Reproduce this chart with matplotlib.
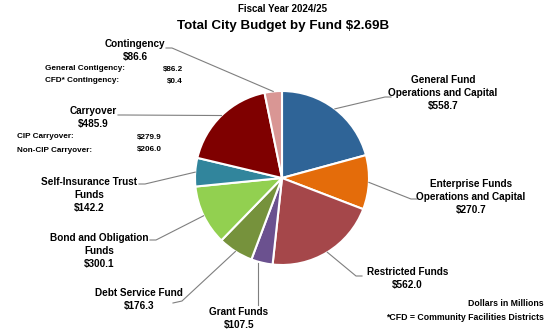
import numpy as np
import matplotlib.pyplot as plt
from matplotlib import font_manager
from matplotlib.textpath import TextPath

plt.rcParams['font.family'] = ['Liberation Sans Narrow', 'Liberation Sans', 'DejaVu Sans']
plt.rcParams['font.weight'] = 'bold'

# budget by fund, $ millions (clockwise from 12 o'clock)
funds = ['General Fund\nOperations and Capital', 'Enterprise Funds\nOperations and Capital',
         'Restricted Funds', 'Grant Funds', 'Debt Service Fund',
         'Bond and Obligation\nFunds', 'Self-Insurance Trust\nFunds', 'Carryover', 'Contingency']
amounts = [558.7, 270.7, 562.0, 107.5, 176.3, 300.1, 142.2, 485.9, 86.6]
colors = ['#2F6497', '#E46C0A', '#A5474A', '#6B518F', '#76923C',
          '#92D050', '#31859C', '#7F0000', '#D99694']

contingency_parts = ['General Contigency:', 'CFD* Contingency:']
contingency_vals = [86.2, 0.4]
carryover_parts = ['CIP Carryover:', 'Non-CIP Carryover:']
carryover_vals = [279.9, 206.0]

W, H = 560, 333
fig = plt.figure(figsize=(W / 100, H / 100), dpi=100)
ax = fig.add_axes([0, 0, 1, 1])

def Y(y):
    return H - y

cx, cy, r = 282, Y(178), 87
ax.pie(amounts, colors=colors, startangle=90, counterclock=False,
       center=(cx, cy), radius=r, frame=True,
       wedgeprops=dict(edgecolor='white', linewidth=1.5))
ax.set_xlim(0, W)
ax.set_ylim(0, H)
ax.set_aspect('equal')
ax.axis('off')

# text anchor of first label line (px) and alignment of that line
label_pos = [
    (443, 80, 'center'),
    (471, 184, 'center'),
    (367, 272, 'left'),
    (239, 312, 'center'),
    (182, 293, 'right'),
    (148, 238, 'right'),
    (137, 182, 'right'),
    (117, 111, 'right'),
    (165, 44, 'right'),
]
# where each leader line ends, near the text (px)
line_ends = [(391, 97), (417, 199), (362, 276), (258, 305), (173, 303),
             (150, 240), (139, 184), (118, 115), (166, 48)]

fp = font_manager.FontProperties(family=plt.rcParams['font.family'], weight='bold', size=7.2)

def text_w(s):
    return TextPath((0, 0), s, prop=fp).get_extents().width / 72 * 100

total = sum(amounts)
cum = np.cumsum([0] + amounts)
for i, (name, val) in enumerate(zip(funds, amounts)):
    mid = (cum[i] + cum[i + 1]) / 2 / total * 2 * np.pi
    px, py = cx + r * np.sin(mid), cy + r * np.cos(mid)
    ex, ey = line_ends[i]
    ey = Y(ey)
    if i == 3:
        xs, ys = [px - 4, px - 4], [py, ey]
    elif i == 4:
        xs, ys = [ex, ex + 9, px], [ey, ey + 2, py]
    else:
        d = 6 if px > ex else -6
        xs, ys = [ex, ex + d, px], [ey, ey, py]
    ax.plot(xs, ys, color='#7F7F7F', lw=0.8, zorder=1)

    tx, ty, ha = label_pos[i]
    lines = name.split('\n') + ['$%.1f' % val]
    w0 = text_w(lines[0])
    if ha == 'center':
        c = tx
    elif ha == 'right':
        c = tx - w0 / 2
    else:
        c = tx + w0 / 2
    for k, s in enumerate(lines):
        ax.text(c, Y(ty + 13 * k), s, ha='center', va='center', fontsize=7.2)

# breakdown tables
for k, (n, v) in enumerate(zip(contingency_parts, contingency_vals)):
    ax.text(45, Y(69 + 12 * k), n, ha='left', va='center', fontsize=5.9)
    ax.text(183, Y(69 + 12 * k), '$%.1f' % v, ha='right', va='center', fontsize=5.9)
for k, (n, v) in enumerate(zip(carryover_parts, carryover_vals)):
    ax.text(17, Y(137 + 13 * k), n, ha='left', va='center', fontsize=5.9)
    ax.text(162, Y(137 + 13 * k), '$%.1f' % v, ha='right', va='center', fontsize=5.9)

ax.text(282, Y(9), 'Fiscal Year 2024/25', ha='center', va='center', fontsize=7)
ax.text(283, Y(26), 'Total City Budget by Fund $2.69B', ha='center', va='center', fontsize=9.6)
ax.text(544, Y(304), 'Dollars in Millions', ha='right', va='center', fontsize=6.3)
ax.text(544, Y(318), '*CFD = Community Facilities Districts', ha='right', va='center', fontsize=6.3)

fig.savefig('out.png', dpi=100)
